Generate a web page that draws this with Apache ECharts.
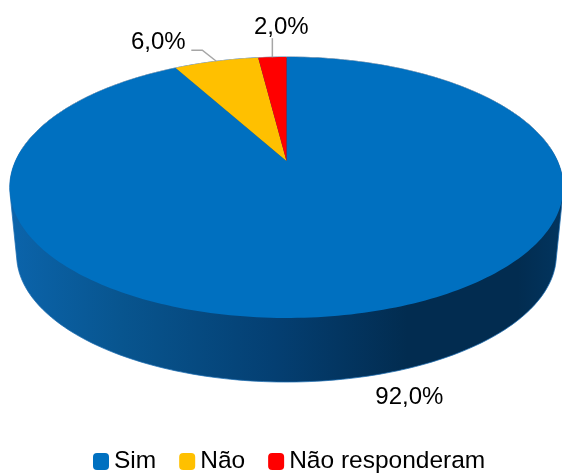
<!DOCTYPE html>
<html><head><meta charset="utf-8">
<style>html,body{margin:0;padding:0;background:#fff}#c{width:562px;height:474px}</style>
<script src="https://cdn.jsdelivr.net/npm/echarts@6/dist/echarts.min.js"></script>
</head><body><div id="c"></div>
<script>
const categories = ['Sim', 'Não', 'Não responderam'];
const values = [92, 6, 2];
const colors = ['#0070C0', '#FFC000', '#FF0000'];
const labelFont = '24px "Liberation Sans", Arial, sans-serif';

// Perspective projection of a unit disc (u right, v away from viewer)
const view = {cx: 286.5, apexY: 161, R: 271, S: 125.1, p: 0.203};
const base = {scale: 0.975, apexY: 229};
const project = (ang, r, s, apexY) => {
  const u = Math.sin(ang) * r, v = Math.cos(ang) * r, d = 1 + view.p * v;
  return [view.cx + s * view.R * u / d, apexY - s * view.S * v / d];
};
const total = values.reduce((a, b) => a + b, 0);
// slices run clockwise from 12 o'clock
const starts = values.map((_, i) => values.slice(0, i).reduce((a, b) => a + b, 0) / total * Math.PI * 2);
const ends = starts.map((s, i) => s + values[i] / total * Math.PI * 2);
const ring = (a0, a1, s, y) => {
  const n = Math.max(4, Math.ceil((a1 - a0) / 0.02)), out = [];
  for (let k = 0; k <= n; k++) out.push(project(a0 + (a1 - a0) * k / n, 1, s, y));
  return out;
};
const hull = pts => {
  const p = pts.slice().sort((a, b) => a[0] - b[0] || a[1] - b[1]);
  const cross = (o, a, b) => (a[0] - o[0]) * (b[1] - o[1]) - (a[1] - o[1]) * (b[0] - o[0]);
  const half = list => {
    const h = [];
    for (const q of list) {
      while (h.length > 1 && cross(h[h.length - 2], h[h.length - 1], q) <= 0) h.pop();
      h.push(q);
    }
    h.pop();
    return h;
  };
  return half(p).concat(half(p.slice().reverse()));
};
const sideFill = new echarts.graphic.LinearGradient(10, 0, 562, 0, [
  {offset: 0, color: '#0b64ab'}, {offset: 0.2, color: '#08558f'}, {offset: 0.48, color: '#043f72'},
  {offset: 0.72, color: '#022c50'}, {offset: 0.92, color: '#022c50'}, {offset: 1, color: '#02355f'}
], true);

function renderSide() {
  const all = ring(0, Math.PI * 2, 1, view.apexY).concat(ring(0, Math.PI * 2, base.scale, base.apexY));
  const backEdge = ring(-Math.PI / 2 + 0.1, Math.PI / 2 - 0.1, 1, view.apexY);
  return {type: 'group', children: [
    {type: 'polygon', shape: {points: hull(all)},
     style: {fill: sideFill, stroke: 'rgba(30,110,178,0.75)', lineWidth: 1}},
    {type: 'polyline', z2: 2, shape: {points: backEdge}, style: {stroke: '#a9b3bd', lineWidth: 1, fill: null}}
  ]};
}
function renderTop(i) {
  return function () {
    const apex = project(0, 0, 1, view.apexY);
    const mid = (starts[i] + ends[i]) / 2;
    const rim = project(mid, 1, 1, view.apexY);
    const txt = (values[i] / total * 100).toFixed(1).replace('.', ',') + '%';
    const kids = [{type: 'polygon', shape: {points: [apex].concat(ring(starts[i], ends[i], 1, view.apexY))},
                   style: {fill: colors[i]}}];
    const lbl = [
      {dx: 39, dy: 86, anchor: null},
      {dx: -58, dy: -19, anchor: [[-14, -11], [-25, -11]]},
      {dx: 9, dy: -30, anchor: [[0, -19]]}
    ][i];
    if (lbl.anchor) {
      kids.push({type: 'polyline', z2: 5,
        shape: {points: [rim].concat(lbl.anchor.map(o => [rim[0] + o[0], rim[1] + o[1]]))},
        style: {stroke: '#a6a6a6', lineWidth: 1.5, fill: null}});
    }
    const ly = i === 0 ? project(mid, 1, base.scale, base.apexY)[1] + 21 : rim[1] + lbl.dy;
    kids.push({type: 'text', z2: 6, style: {x: rim[0] + lbl.dx, y: ly, text: txt, font: labelFont,
      fill: '#000', textAlign: 'center', textVerticalAlign: 'middle'}});
    return {type: 'group', children: kids};
  };
}

const chart = echarts.init(document.getElementById('c'), null, {renderer: 'canvas'});
chart.setOption({
  animation: false,
  legend: {
    data: categories.map(n => ({name: n, icon: 'roundRect'})),
    left: 93, top: 449, itemWidth: 16, itemHeight: 17, itemGap: 23, padding: 0,
    selectedMode: false,
    textStyle: {fontFamily: '"Liberation Sans", Arial, sans-serif', fontSize: 24.5, color: '#000'}
  },
  series: [
    {type: 'custom', name: 'lado', coordinateSystem: 'none', z: 1, silent: true,
     data: [total], renderItem: renderSide}
  ].concat(categories.map((name, i) => ({
    type: 'custom', name, coordinateSystem: 'none', z: 2, silent: true,
    itemStyle: {color: colors[i]}, data: [values[i]], renderItem: renderTop(i)
  })))
});
</script></body></html>
